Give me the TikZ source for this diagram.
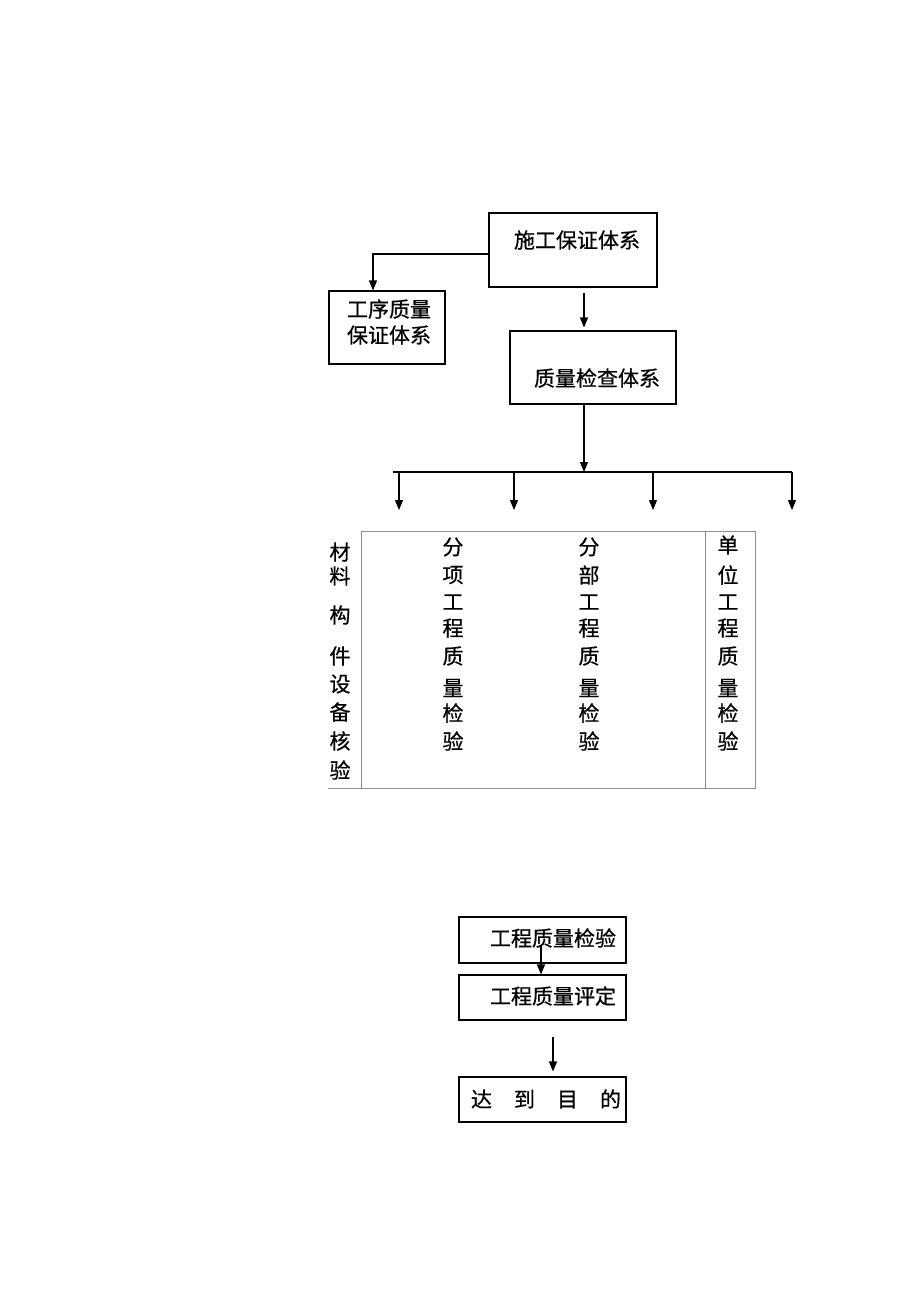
\documentclass[tikz,border=0pt]{standalone}
\usepackage{fontspec}
\setmainfont{Noto Sans CJK SC}[FakeBold=0.6]
\usetikzlibrary{arrows.meta}

\tikzset{
    box/.style={draw, black, line width=1.1pt, inner sep=0pt},
    lbl/.style={font=\fontsize{21}{21}\selectfont, inner sep=0pt},
    arr/.style={-{Triangle[length=10pt,width=8pt]}, line width=1.1pt},
    thin box/.style={draw=black!45, line width=0.9pt}
}

\begin{document}
\begin{tikzpicture}[x=1pt,y=-1pt]
        \useasboundingbox (0,0) rectangle (920,1302);
        \node[box, line width=1.7pt, minimum width=168pt, minimum height=74pt] (sg) at (573,250) {};
        \node[lbl] (sgt) at (577,240) {施工保证体系};
        \node[box, minimum width=116pt, minimum height=73pt] (gx) at (387,327.5) {};
        \node[lbl, align=center] (gxt) at (389,322) {工序质量\\[5pt]保证体系};
        \node[box, minimum width=166pt, minimum height=73pt] (zl) at (593,367.5) {};
        \node[lbl] (zlt) at (597,378) {质量检查体系};
        \draw[arr] ([yshift=-4pt]sg.west) -| ([xshift=-14pt]gx.north);
        \draw[arr] ([xshift=11pt,yshift=-5pt]sg.south) -- ([xshift=-9pt,yshift=3pt]zl.north);

        \coordinate (bus) at (584,472);
        \coordinate (bl) at (393,472);
        \coordinate (br) at (792,472);
        \draw[arr] ([xshift=-9pt]zl.south) -- (bus);
        \draw[line width=1.1pt] (bl) -- (br);
        \foreach \x [count=\i] in {399,514,653,792} {
            \coordinate (b\i) at (\x,472);
            \coordinate (e\i) at (\x,510);
            \draw[arr] (b\i) -- (e\i);
        }

        \draw[thin box] (361,531) rectangle (755,788);
        \draw[thin box] (705,531) -- (705,788);
        \draw[thin box] (328,788) -- (361,788);
        \foreach \c/\y [count=\i] in {材/552,料/576,构/615,件/656,设/684,备/712,核/741,验/770}
            \node[lbl] (m\i) at (340,\y) {\c};
        \foreach \c/\y [count=\i] in {分/547,项/575,工/602,程/628,质/656,量/688,检/713,验/741}
            \node[lbl] (fx\i) at (453,\y) {\c};
        \foreach \c/\y [count=\i] in {分/547,部/575,工/602,程/628,质/656,量/688,检/713,验/741}
            \node[lbl] (fb\i) at (589,\y) {\c};
        \foreach \c/\y [count=\i] in {单/545,位/575,工/602,程/628,质/656,量/688,检/713,验/741}
            \node[lbl] (dw\i) at (728,\y) {\c};

        \node[box, minimum width=167pt, minimum height=46pt] (jy) at (542.5,940) {};
        \node[lbl] (jyt) at (553,938) {工程质量检验};
        \node[box, minimum width=167pt, minimum height=45pt] (pd) at (542.5,997.5) {};
        \node[lbl] (pdt) at (553,996) {工程质量评定};
        \node[box, minimum width=167pt, minimum height=45pt] (dd) at (542.5,1099.5) {};
        \node[lbl] (ddt) at (546,1099) {达\hspace{22pt}到\hspace{22pt}目\hspace{22pt}的};
        \draw[arr] ([xshift=-1.5pt,yshift=-6pt]jy.center) -- ([xshift=-1.5pt]pd.north);
        \draw[arr] ([xshift=10.5pt,yshift=-16pt]pd.south) -- ([xshift=10.5pt,yshift=5pt]dd.north);
\end{tikzpicture}
\end{document}
